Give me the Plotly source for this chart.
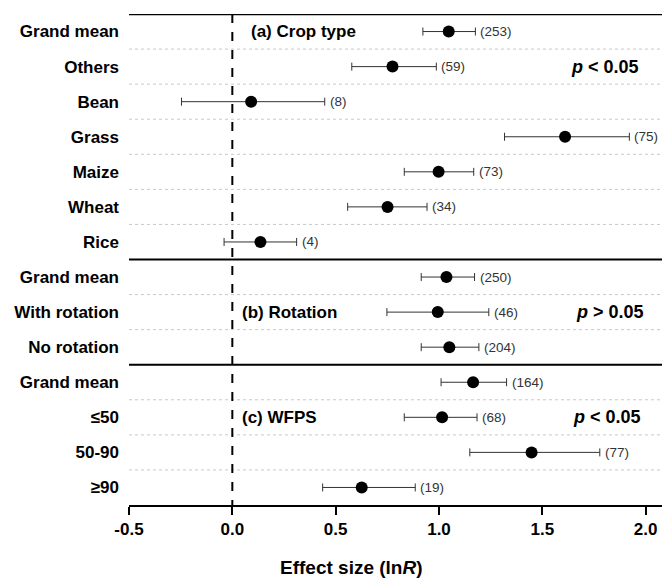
import plotly.graph_objects as go

# ---- data ----
categories = ["Grand mean", "Others", "Bean", "Grass", "Maize", "Wheat", "Rice",
              "Grand mean", "With rotation", "No rotation",
              "Grand mean", "≤50", "50-90", "≥90"]
effect = [1.047, 0.775, 0.091, 1.610, 0.998, 0.751, 0.136,
          1.036, 0.994, 1.050,
          1.165, 1.015, 1.448, 0.626]
ci_low = [0.922, 0.578, -0.246, 1.317, 0.832, 0.558, -0.040,
          0.914, 0.748, 0.914,
          1.010, 0.832, 1.149, 0.437]
ci_high = [1.176, 0.987, 0.447, 1.921, 1.168, 0.942, 0.311,
           1.172, 1.241, 1.193,
           1.327, 1.184, 1.778, 0.885]
n_obs = [253, 59, 8, 75, 73, 34, 4, 250, 46, 204, 164, 68, 77, 19]
x_ticks = [-0.5, 0.0, 0.5, 1.0, 1.5, 2.0]
x_ticklabels = ["-0.5", "0.0", "0.5", "1.0", "1.5", "2.0"]
panel_labels = ["(a) Crop type", "(b) Rotation", "(c) WFPS"]
panel_rows = [0, 8, 11]
p_labels = ["<i>p</i> &lt; 0.05", "<i>p</i> &gt; 0.05", "<i>p</i> &lt; 0.05"]
p_rows = [1, 8, 11]
separator_rows = [6.5, 9.5]

FONT = "Liberation Sans, Arial, sans-serif"
rows = list(range(len(categories)))

fig = go.Figure()
fig.add_trace(go.Scatter(
    x=effect, y=rows, mode="markers",
    marker=dict(color="black", size=12),
    error_x=dict(type="data", symmetric=False,
                 array=[h - e for h, e in zip(ci_high, effect)],
                 arrayminus=[e - l for e, l in zip(effect, ci_low)],
                 color="#333333", thickness=1, width=4),
    showlegend=False, hoverinfo="skip"))

shapes = []
# top heavy line
shapes.append(dict(type="line", xref="paper", x0=0, x1=1, yref="y", y0=-0.5, y1=-0.5,
                   line=dict(color="black", width=2.5)))
# dotted gridlines and separators
for k in range(len(categories) - 1):
    yb = k + 0.5
    if yb in separator_rows:
        shapes.append(dict(type="line", xref="paper", x0=0, x1=1, yref="y", y0=yb, y1=yb,
                           line=dict(color="black", width=2)))
    else:
        shapes.append(dict(type="line", xref="paper", x0=0, x1=1, yref="y", y0=yb, y1=yb,
                           line=dict(color="#c8c8c8", width=1, dash="dot"), layer="below"))
# zero dashed line
shapes.append(dict(type="line", xref="x", x0=0, x1=0, yref="y", y0=-0.5, y1=13.5,
                   line=dict(color="black", width=2, dash="dash"), layer="below"))

annotations = []
for i, (h, n) in enumerate(zip(ci_high, n_obs)):
    annotations.append(dict(x=h, y=i, xref="x", yref="y", text=f"({n})",
                            showarrow=False, xanchor="left", yanchor="middle", xshift=3,
                            font=dict(family=FONT, size=13.5, color="#333333")))
panel_x = [0.082, 0.039, 0.039]
for lab, r, px in zip(panel_labels, panel_rows, panel_x):
    annotations.append(dict(x=px, y=r, xref="x", yref="y", text=f"<b>{lab}</b>",
                            showarrow=False, xanchor="left", yanchor="middle",
                            font=dict(family=FONT, size=17, color="black")))
p_x = [1.979, 2.003, 1.988]
for lab, r, px in zip(p_labels, p_rows, p_x):
    annotations.append(dict(x=px, y=r, xref="x", yref="y", text=f"<b>{lab}</b>",
                            showarrow=False, xanchor="right", yanchor="middle",
                            font=dict(family=FONT, size=18, color="black")))
annotations.append(dict(x=0.418, y=-0.128, xref="paper", yref="paper",
                        text="<b>Effect size (ln<i>R</i>)</b>", showarrow=False,
                        xanchor="center", yanchor="middle",
                        font=dict(family=FONT, size=19, color="black")))

fig.update_layout(
    width=662, height=579, autosize=False,
    margin=dict(l=129, r=0, t=14, b=74),
    paper_bgcolor="white", plot_bgcolor="white",
    shapes=shapes, annotations=annotations,
    xaxis=dict(range=[-0.5, 2.079], tickvals=x_ticks, ticktext=x_ticklabels,
               showline=True, linecolor="black", linewidth=2,
               ticks="outside", ticklen=8, tickwidth=2, tickcolor="black",
               tickfont=dict(family=FONT, size=17, color="black", weight="bold"),
               showgrid=False, zeroline=False),
    yaxis=dict(range=[13.5, -0.5], tickvals=rows, ticktext=categories,
               showline=False, showgrid=False, zeroline=False, ticks="",
               ticklabelstandoff=9,
               tickfont=dict(family=FONT, size=17, color="black", weight="bold")),
)

# remove the default page margin so the figure fills the window exactly
fig.write_html("out.html", config={"displayModeBar": False},
               post_script="document.body.style.margin='0';document.body.style.overflow='hidden';")
